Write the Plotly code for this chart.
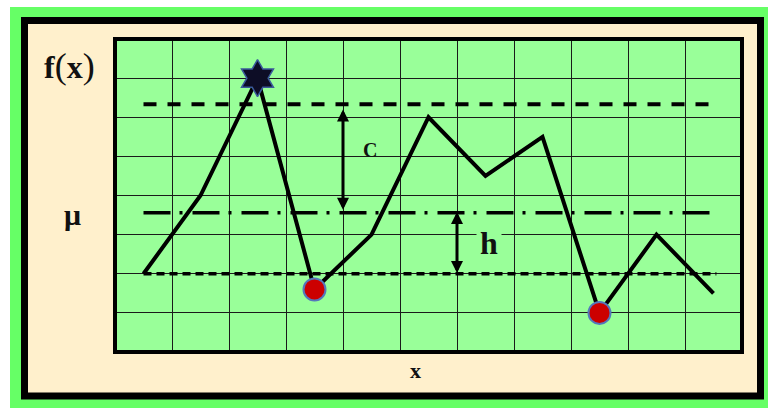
import plotly.graph_objects as go

# ---- data ----
x_vals = [0.5, 1.5, 2.5, 3.5, 4.5, 5.5, 6.5, 7.5, 8.5, 9.5, 10.5]
y_vals = [2.0, 4.0, 7.0, 1.6, 3.0, 6.0, 4.5, 5.5, 1.0, 3.0, 1.5]
star_x = [2.5]
star_y = [7.0]
dot_x = [3.5, 8.5]
dot_y = [1.6, 1.0]
upper_level = 6.33
mu_level = 3.56
lower_level = 2.0
upper_x = [0.5, 10.45]
mu_x = [0.5, 10.55]
lower_x = [0.5, 10.55]
c_arrow = {"x": 4.0, "top": 6.2, "bottom": 3.6}
h_arrow = {"x": 6.0, "top": 3.58, "bottom": 1.98}

W, H = 768, 408
L, R, T, B = 115, 742, 39, 352

OUTER = "#66ff66"
BEIGE = "#fff0cc"
PLOTG = "#99ff99"
SERIF = "Liberation Serif, Times New Roman, serif"


def px(xp):
    return (xp - L) / (R - L)


def py(yp):
    return (B - yp) / (B - T)


fig = go.Figure()

fig.add_trace(go.Scatter(x=upper_x, y=[upper_level] * 2, mode="lines",
                         line=dict(color="black", width=4, dash="13px,11px"),
                         hoverinfo="skip", showlegend=False))
fig.add_trace(go.Scatter(x=mu_x, y=[mu_level] * 2, mode="lines",
                         line=dict(color="black", width=3.5, dash="27px,9px,3px,10px"),
                         hoverinfo="skip", showlegend=False))
fig.add_trace(go.Scatter(x=lower_x, y=[lower_level] * 2, mode="lines",
                         line=dict(color="black", width=3.5, dash="8px,5px"),
                         hoverinfo="skip", showlegend=False))
fig.add_trace(go.Scatter(x=x_vals, y=y_vals, mode="lines",
                         line=dict(color="black", width=4),
                         hoverinfo="skip", showlegend=False))
fig.add_trace(go.Scatter(x=star_x, y=star_y, mode="markers",
                         marker=dict(symbol="hexagram", size=28, color="#0d0d26",
                                     line=dict(color="#3a5a9a", width=1.5)),
                         hoverinfo="skip", showlegend=False))
fig.add_trace(go.Scatter(x=dot_x, y=dot_y, mode="markers",
                         marker=dict(symbol="circle", size=22, color="#cc0000",
                                     line=dict(color="#5577bb", width=2)),
                         hoverinfo="skip", showlegend=False))

shapes = [
    dict(type="rect", xref="paper", yref="paper", layer="below",
         x0=px(10), x1=px(780), y0=py(420), y1=py(7),
         fillcolor=OUTER, line=dict(width=0)),
    dict(type="rect", xref="paper", yref="paper", layer="below",
         x0=px(24.5), x1=px(760.5), y0=py(396), y1=py(20.5),
         fillcolor=BEIGE, line=dict(color="black", width=7)),
    dict(type="rect", xref="paper", yref="paper", layer="below",
         x0=0, x1=1, y0=0, y1=1,
         fillcolor=PLOTG, line=dict(width=0)),
    dict(type="rect", xref="paper", yref="paper", layer="above",
         x0=0, x1=1, y0=0, y1=1,
         line=dict(color="black", width=4)),
]

fx_text = ("<b>f</b><span style='font-size:36px'>(</span><b>x</b>"
           "<span style='font-size:36px'>)</span>")

annotations = [
    dict(x=c_arrow["x"], y=c_arrow["top"], ax=c_arrow["x"], ay=c_arrow["bottom"],
         xref="x", yref="y", axref="x", ayref="y", text="", showarrow=True,
         arrowside="end+start", arrowhead=2, arrowsize=0.8, arrowwidth=3, arrowcolor="black"),
    dict(x=h_arrow["x"], y=h_arrow["top"], ax=h_arrow["x"], ay=h_arrow["bottom"],
         xref="x", yref="y", axref="x", ayref="y", text="", showarrow=True,
         arrowside="end+start", arrowhead=2, arrowsize=0.8, arrowwidth=3, arrowcolor="black"),
    dict(x=px(370), y=py(137), xref="paper", yref="paper", text="<b>C</b>",
         showarrow=False, font=dict(family=SERIF, size=20, color="#111")),
    dict(x=px(489), y=py(243), xref="paper", yref="paper", text="<b>h</b>",
         showarrow=False, bgcolor=PLOTG, borderpad=3,
         font=dict(family=SERIF, size=32, color="#111")),
    dict(x=px(69), y=py(66), xref="paper", yref="paper", text=fx_text,
         xanchor="center", yanchor="middle",
         showarrow=False, font=dict(family=SERIF, size=32, color="#111")),
    dict(x=px(72), y=py(214), xref="paper", yref="paper", text="<b>μ</b>",
         xanchor="center", yanchor="middle",
         showarrow=False, font=dict(family=SERIF, size=30, color="#111")),
    dict(x=px(415), y=py(370), xref="paper", yref="paper", text="<b>x</b>",
         xanchor="center", yanchor="middle",
         showarrow=False, font=dict(family=SERIF, size=22, color="#111")),
]

fig.update_layout(
    width=W, height=H,
    margin=dict(l=L, r=W - R, t=T, b=H - B, pad=0),
    paper_bgcolor="white",
    plot_bgcolor=PLOTG,
    shapes=shapes,
    annotations=annotations,
    showlegend=False,
    xaxis=dict(range=[0, 11], dtick=1, tick0=0, showgrid=True, gridcolor="#1a1a1a",
               gridwidth=1.3, showticklabels=False, zeroline=False, ticks="",
               fixedrange=True),
    yaxis=dict(range=[0, 8], dtick=1, tick0=0, showgrid=True, gridcolor="#1a1a1a",
               gridwidth=1.3, showticklabels=False, zeroline=False, ticks="",
               fixedrange=True),
)

fig.write_html("out.html", config={"displayModeBar": False},
               post_script="document.body.style.margin='0';document.body.style.overflow='hidden';")
